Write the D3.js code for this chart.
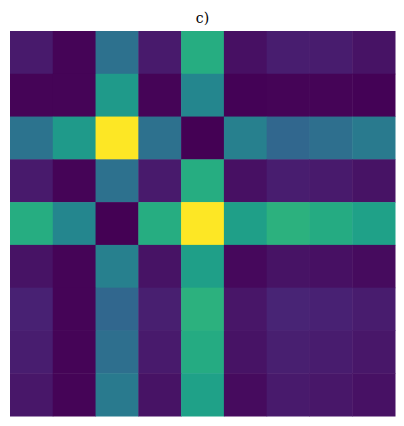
<!DOCTYPE html>
<html><head><meta charset="utf-8">
<script src="https://cdn.jsdelivr.net/npm/d3@7"></script>
<style>body{margin:0;background:#fff}</style>
</head><body>
<script>
const rows = ["0","1","2","3","4","5","6","7","8"];
const cols = ["0","1","2","3","4","5","6","7","8"];
const row0 = [0.07,0.01,0.37,0.07,0.62,0.04,0.08,0.075,0.05];
const row1 = [0.01,0.01,0.54,0.01,0.46,0.005,0.01,0.01,0.005];
const row2 = [0.38,0.54,1.0,0.37,0.0,0.43,0.33,0.36,0.41];
const row3 = [0.07,0.01,0.37,0.07,0.62,0.04,0.08,0.07,0.05];
const row4 = [0.62,0.46,0.0,0.62,1.0,0.56,0.64,0.61,0.57];
const row5 = [0.05,0.01,0.43,0.05,0.56,0.02,0.05,0.04,0.03];
const row6 = [0.09,0.01,0.33,0.085,0.64,0.055,0.10,0.09,0.075];
const row7 = [0.08,0.01,0.36,0.07,0.61,0.05,0.085,0.075,0.06];
const row8 = [0.06,0.01,0.41,0.05,0.57,0.03,0.07,0.06,0.045];
const values = [row0,row1,row2,row3,row4,row5,row6,row7,row8];
const title = "c)";

const W = 404, H = 426;
const svg = d3.select("body").append("svg").attr("width", W).attr("height", H);
const x = d3.scaleBand().domain(cols).range([10, 395]);
const y = d3.scaleBand().domain(rows).range([31, 416]);
const color = d3.scaleSequential(d3.interpolateViridis).domain([0, 1]);

const cells = [];
values.forEach((r, i) => r.forEach((v, j) => cells.push({r: rows[i], c: cols[j], v})));
svg.append("g").selectAll("rect").data(cells).join("rect")
  .attr("x", d => x(d.c)).attr("y", d => y(d.r))
  .attr("width", x.bandwidth() + 0.5).attr("height", y.bandwidth() + 0.5)
  .attr("fill", d => color(d.v));

svg.append("text").attr("x", 202.5).attr("y", 23)
  .attr("text-anchor", "middle")
  .style("font-family", "'DejaVu Serif', serif").style("font-size", "14px")
  .attr("fill", "#000").text(title);
</script>
</body></html>
